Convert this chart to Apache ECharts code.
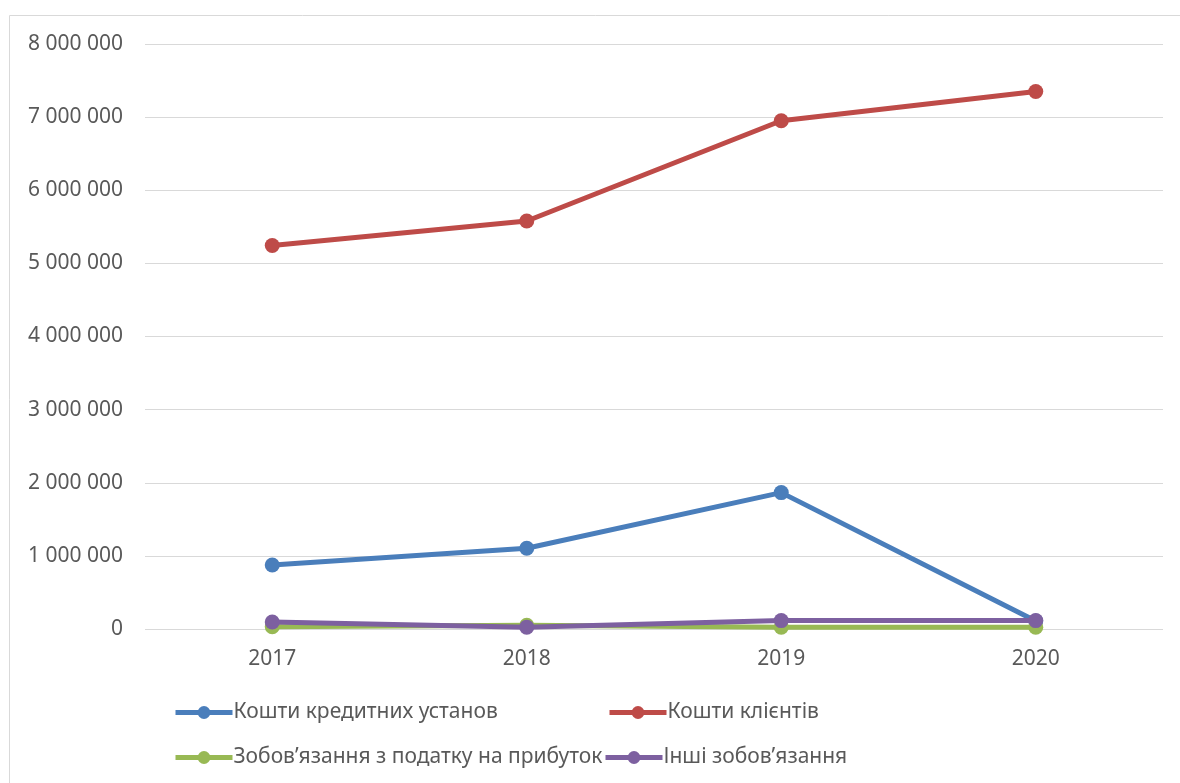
<!DOCTYPE html>
<html><head><meta charset="utf-8">
<script src="https://cdn.jsdelivr.net/npm/echarts@6/dist/echarts.min.js"></script>
<style>html,body{margin:0;padding:0;background:#fff}#c{width:1180px;height:783px}</style>
</head><body><div id="c"></div>
<script>
const categories = ['2017', '2018', '2019', '2020'];
const seriesNames = ['Кошти кредитних установ', 'Кошти клієнтів', 'Зобов’язання з податку на прибуток', 'Інші зобов’язання'];
const creditInst = [875000, 1105000, 1865000, 110000];
const clients = [5245000, 5580000, 6950000, 7350000];
const incomeTax = [30000, 50000, 25000, 25000];
const otherLiab = [95000, 25000, 115000, 115000];
const yTicks = [0, 1000000, 2000000, 3000000, 4000000, 5000000, 6000000, 7000000, 8000000];

const colors = ['#4A7EBB', '#BE4B48', '#98B954', '#7D60A0'];
const FONT = 'Noto Sans';
const chart = echarts.init(document.getElementById('c'));
function fmt(v){ return String(v).replace(/\B(?=(\d{3})+(?!\d))/g, ' '); }
const dataArr = [creditInst, clients, incomeTax, otherLiab];
const legendPos = [[173, 702], [607, 702], [173, 747], [603, 747]];
chart.setOption({
  animation: false,
  color: colors,
  graphic: [{type:'rect', shape:{x:9.5, y:15.5, width:1200, height:800}, style:{fill:'none', stroke:'#D9D9D9', lineWidth:1}, silent:true}],
  grid: {left:145, right:17, top:44, bottom:154},
  xAxis: {type:'category', data: categories, boundaryGap:true,
    axisLine:{show:false}, axisTick:{show:false},
    axisLabel:{color:'#595959', fontSize:21, fontFamily:FONT, margin:20}},
  yAxis: {type:'value', min:yTicks[0], max:yTicks[yTicks.length-1], interval:1000000,
    axisLine:{show:false}, axisTick:{show:false},
    splitLine:{lineStyle:{color:'#D9D9D9', width:1}},
    axisLabel:{color:'#595959', fontSize:21, fontFamily:FONT, margin:22, formatter: v => fmt(v)}},
  legend: seriesNames.map((n, i) => ({
    data:[n], left:legendPos[i][0], top:legendPos[i][1], itemWidth:57, itemHeight:16, itemGap:2,
    lineStyle:{width:5},
    textStyle:{color:'#595959', fontSize:21, fontFamily:FONT, padding:[0,0,0,-4]}, padding:0
  })),
  series: seriesNames.map((n, i) => ({
    name:n, type:'line', data:dataArr[i], symbol:'circle', symbolSize:15,
    lineStyle:{width:5, color:colors[i]}, itemStyle:{color:colors[i]}, z: i===3 ? 5 : (i===2 ? 4 : 3)
  }))
});
</script></body></html>
